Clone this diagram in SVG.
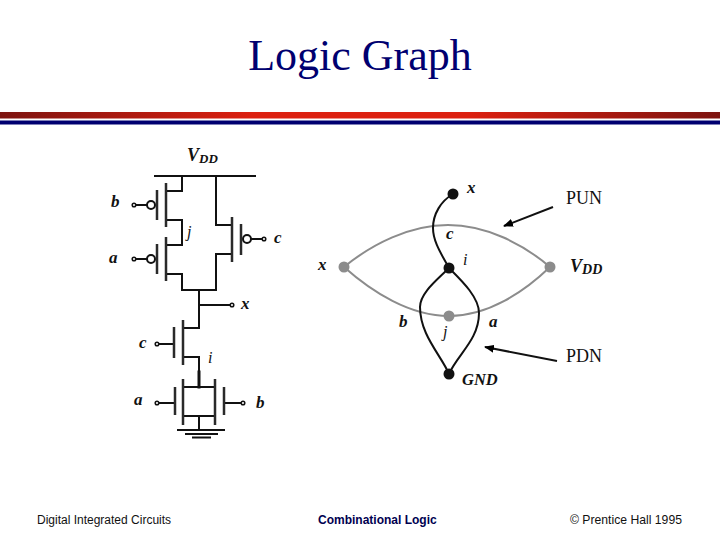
<svg xmlns="http://www.w3.org/2000/svg" width="720" height="540" viewBox="0 0 720 540">
<defs>
<marker id="ah" markerWidth="10" markerHeight="8" refX="9" refY="4" orient="auto" markerUnits="userSpaceOnUse"><path d="M0 0L10 4L0 8Z" fill="#000"/></marker>
<linearGradient id="red" x1="0" y1="0" x2="1" y2="0"><stop offset="0" stop-color="#7d1410"/><stop offset="0.350" stop-color="#dc2010"/><stop offset="0.650" stop-color="#dc2010"/><stop offset="1" stop-color="#7d1410"/></linearGradient>
</defs>
<style>
.w{fill:none;stroke:#111;stroke-width:2;stroke-linecap:square}
.g{fill:none;stroke:#2a2a2a;stroke-width:2.5}
.gr{fill:none;stroke:#8c8c8c;stroke-width:2}
.bk{fill:none;stroke:#111;stroke-width:2}
.lb{font-family:"Liberation Serif",serif;font-style:italic;font-weight:bold;fill:#111}
.il{font-family:"Liberation Serif",serif;font-style:italic;fill:#111;font-size:16px}
.r{font-family:"Liberation Serif",serif;fill:#111;font-size:18px}
.f{font-family:"Liberation Sans",sans-serif;font-size:12px}
</style>
<rect width="720" height="540" fill="#fff"/>
<text x="360" y="70" text-anchor="middle" font-family="'Liberation Serif',serif" font-size="44" fill="#000070">Logic Graph</text>
<g id="header">
<rect x="0" y="112" width="720" height="6.500" fill="url(#red)"/>
<rect x="0" y="120.500" width="720" height="4" fill="#000070"/>
</g>
<g id="connectors">
<path class="w" d="M155 176H255M182 176V191H166M166 220H182V245H166M166 274H182V290H216V254H232M232 225H216V176M199 290V328H183M199 305H231M183 357H199V387M183 387H215M183 416H215M199 416V430M135 205H147M135 259H147M247 239H263M158 344H174M158 403H175M224 403H242"/>
<path class="w" d="M178 430H224M186 434H217M193 437.500H210" stroke-width="1.500"/>
<path class="w" style="stroke-width:3" d="M199 372V387"/>
<path class="g" d="M166 183V227M166 237V281M157 190V220M157 244V274M232 217V262M241 224V255M183 320V365M174 327V358M183 379V425M215 379V425M175 387V415M224 387V415"/>
<path class="gr" d="M344 267C372 244 410 225 448 225C485 225 522 243 550 267"/>
<path class="gr" d="M344 267C372 292 410 316 449 316C488 316 524 292 550 267"/>
<path class="bk" d="M453 194C441 201 433 214 433 228C433 242 442 255 449 268"/>
<path class="bk" d="M449 268C437 280 420 293 420 307C420 335 441 355 449 374"/>
<path class="bk" d="M449 268C461 280 479 297 479 313C479 340 457 355 449 374"/>
<path d="M553 207L504 226" fill="none" stroke="#111" stroke-width="2" marker-end="url(#ah)"/>
<path d="M557 361L485 347" fill="none" stroke="#111" stroke-width="2" marker-end="url(#ah)"/>
</g>
<g id="transistor-terminals" fill="#fff" stroke="#111">
<circle cx="151" cy="205" r="4" stroke-width="2"/>
<circle cx="151" cy="259" r="4" stroke-width="2"/>
<circle cx="247" cy="239" r="4" stroke-width="2"/>
<circle cx="134" cy="205" r="1.800" stroke-width="1.500"/>
<circle cx="134" cy="259" r="1.800" stroke-width="1.500"/>
<circle cx="264" cy="239" r="1.800" stroke-width="1.500"/>
<circle cx="232" cy="305" r="1.800" stroke-width="1.500"/>
<circle cx="157" cy="344" r="1.800" stroke-width="1.500"/>
<circle cx="157" cy="403" r="1.800" stroke-width="1.500"/>
<circle cx="243" cy="403" r="1.800" stroke-width="1.500"/>
</g>
<g id="node-x-top"><circle cx="453" cy="194" r="5.500" fill="#111"/><text class="lb" font-size="17" x="467" y="193">x</text></g>
<g id="node-i"><circle cx="449" cy="268" r="5.500" fill="#111"/><text class="il" x="463" y="265">i</text></g>
<g id="node-x"><circle cx="344" cy="267" r="5.500" fill="#8c8c8c"/><text class="lb" font-size="17" x="318" y="270">x</text></g>
<g id="node-vdd"><circle cx="550" cy="267" r="5.500" fill="#8c8c8c"/><text class="lb" font-size="18" x="570" y="272">V<tspan font-size="14" dy="2">DD</tspan></text></g>
<g id="node-j"><circle cx="449" cy="316" r="5.500" fill="#8c8c8c"/><text class="il" x="443" y="337">j</text></g>
<g id="node-gnd"><circle cx="449" cy="374" r="5.500" fill="#111"/><text class="lb" font-size="16.500" x="462" y="385">GND</text></g>
<g id="labels">
<text class="lb" font-size="18" x="187" y="161">V<tspan font-size="13" dy="2">DD</tspan></text>
<text class="lb" font-size="17" x="111" y="207">b</text>
<text class="lb" font-size="17" x="109" y="263">a</text>
<text class="lb" font-size="17" x="274" y="243">c</text>
<text class="il" x="187" y="237">j</text>
<text class="lb" font-size="17" x="241" y="309">x</text>
<text class="lb" font-size="17" x="139" y="348">c</text>
<text class="il" x="208" y="363">i</text>
<text class="lb" font-size="17" x="134" y="405">a</text>
<text class="lb" font-size="17" x="256" y="408">b</text>
<text class="lb" font-size="17" x="446" y="239">c</text>
<text class="lb" font-size="17" x="399" y="327">b</text>
<text class="lb" font-size="17" x="489" y="327">a</text>
<text class="r" x="566" y="204">PUN</text>
<text class="r" x="566" y="362">PDN</text>
</g>
<g id="footer">
<text class="f" x="37" y="524" fill="#111">Digital Integrated Circuits</text>
<text class="f" x="318" y="524" fill="#000050" font-weight="bold">Combinational Logic</text>
<text class="f" x="570" y="524" fill="#111" style="font-size:12.200px">© Prentice Hall 1995</text>
</g>
</svg>
